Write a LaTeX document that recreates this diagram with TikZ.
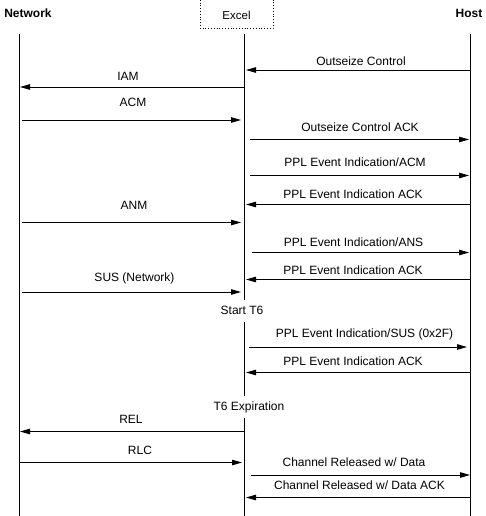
\documentclass[tikz,border=0pt]{standalone}
\usepackage{fontspec}
\setmainfont{Liberation Sans}
\usetikzlibrary{arrows.meta}
\begin{document}
\begin{tikzpicture}[x=1pt,y=-1pt,
  life/.style={line width=0.8pt},
  msg/.style={line width=0.8pt,-{Triangle[length=10pt,width=5.5pt]}},
  lbl/.style={font=\fontsize{12}{14}\selectfont,inner sep=0pt},
  head/.style={font=\fontsize{12}{14}\selectfont\bfseries,inner sep=0pt}]
\useasboundingbox (0,0) rectangle (485,516);
% headers
\node[head] (hn) at (28,13) {Network};
\node[head] (hh) at (469,13) {Host};
\draw[dotted, line width=0.8pt] (200,-3) rectangle (273,28);
\node[lbl,font=\fontsize{11.5}{13}\selectfont] (he) at (236.5,15) {Excel};
% lifeline coordinates
\coordinate (n0) at (19,34); \coordinate (n1) at (19,516);
\coordinate (h0) at (470,34); \coordinate (h1) at (470,516);
\coordinate (e0) at (244,34); \coordinate (e1) at (244,300);
\coordinate (e2) at (244,322); \coordinate (e3) at (244,396);
\coordinate (e4) at (244,418); \coordinate (e5) at (244,516);
\draw[life] (n0) -- (n1);
\draw[life] (h0) -- (h1);
\draw[life] (e0) -- (e1);
\draw[life] (e2) -- (e3);
\draw[life] (e4) -- (e5);
% messages
\coordinate (a1s) at (470,70); \coordinate (a1e) at (246,70);
\draw[msg] (a1s) -- (a1e);
\node[lbl] (l1) at (361,61) {Outseize Control};
\coordinate (a2s) at (244,87); \coordinate (a2e) at (20,87);
\draw[msg] (a2s) -- (a2e);
\node[lbl] (l2) at (128,76) {IAM};
\coordinate (a3s) at (22,120); \coordinate (a3e) at (241,120);
\draw[msg] (a3s) -- (a3e);
\node[lbl] (l3) at (133,102) {ACM};
\coordinate (a4s) at (250,139.5); \coordinate (a4e) at (469,139.5);
\draw[msg] (a4s) -- (a4e);
\node[lbl] (l4) at (360,127) {Outseize Control ACK};
\coordinate (a5s) at (250,175.5); \coordinate (a5e) at (469,175.5);
\draw[msg] (a5s) -- (a5e);
\node[lbl] (l5) at (355,162) {PPL Event Indication/ACM};
\coordinate (a6s) at (470,204.5); \coordinate (a6e) at (246,204.5);
\draw[msg] (a6s) -- (a6e);
\node[lbl] (l6) at (353,194) {PPL Event Indication ACK};
\coordinate (a7s) at (22,222.5); \coordinate (a7e) at (241,222.5);
\draw[msg] (a7s) -- (a7e);
\node[lbl] (l7) at (134,205) {ANM};
\coordinate (a8s) at (252,252.5); \coordinate (a8e) at (469,252.5);
\draw[msg] (a8s) -- (a8e);
\node[lbl] (l8) at (353.5,242) {PPL Event Indication/ANS};
\coordinate (a9s) at (470,279.5); \coordinate (a9e) at (246,279.5);
\draw[msg] (a9s) -- (a9e);
\node[lbl] (l9) at (353,270) {PPL Event Indication ACK};
\coordinate (a10s) at (22,292); \coordinate (a10e) at (241,292);
\draw[msg] (a10s) -- (a10e);
\node[lbl] (l10) at (134.5,278) {SUS (Network)};
\node[lbl] (t6s) at (242,310.5) {Start T6};
\coordinate (a11s) at (249,347); \coordinate (a11e) at (467,347);
\draw[msg] (a11s) -- (a11e);
\node[lbl] (l11) at (364.5,334) {PPL Event Indication/SUS (0x2F)};
\coordinate (a12s) at (470,372.5); \coordinate (a12e) at (246,372.5);
\draw[msg] (a12s) -- (a12e);
\node[lbl] (l12) at (353,361.5) {PPL Event Indication ACK};
\node[lbl] (t6e) at (249,407) {T6 Expiration};
\coordinate (a13s) at (244,431.5); \coordinate (a13e) at (20,431.5);
\draw[msg] (a13s) -- (a13e);
\node[lbl] (l13) at (131,419) {REL};
\coordinate (a14s) at (19,462.5); \coordinate (a14e) at (242,462.5);
\draw[msg] (a14s) -- (a14e);
\node[lbl] (l14) at (140,450) {RLC};
\coordinate (a15s) at (251,475); \coordinate (a15e) at (470,475);
\draw[msg] (a15s) -- (a15e);
\node[lbl] (l15) at (354,462.5) {Channel Released w/ Data};
\coordinate (a16s) at (470,497.5); \coordinate (a16e) at (246,497.5);
\draw[msg] (a16s) -- (a16e);
\node[lbl] (l16) at (359.5,485.5) {Channel Released w/ Data ACK};
\end{tikzpicture}
\end{document}
